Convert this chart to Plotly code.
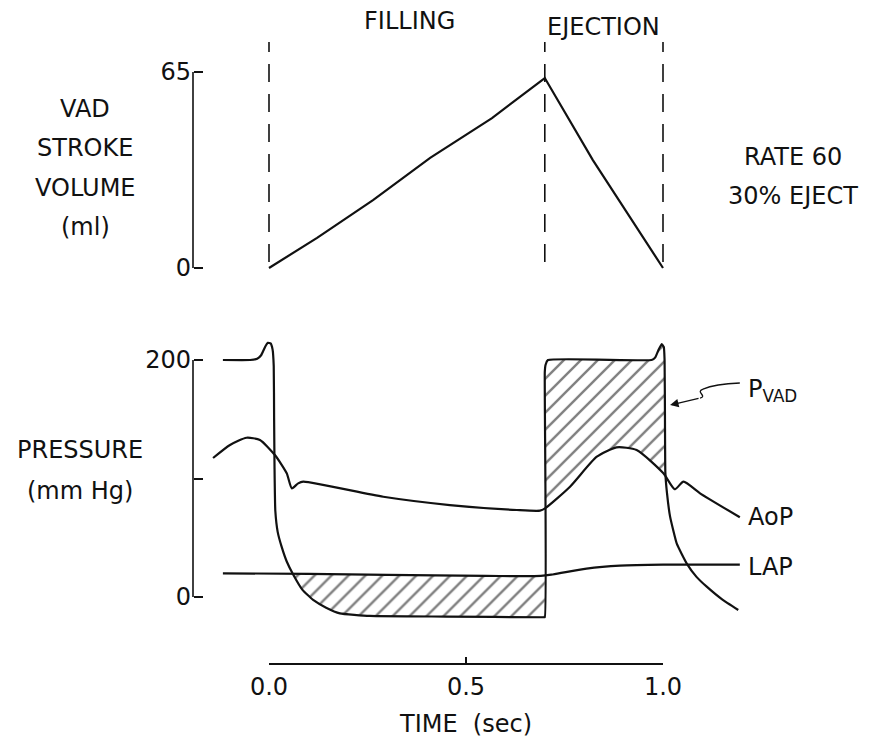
import numpy as np
import plotly.graph_objects as go

# ---- VAD stroke volume over one pump cycle (ml) ----
sv_time = [0.0, 0.122, 0.264, 0.409, 0.566, 0.700, 0.822, 1.0]
sv_volume = [0.0, 10.0, 22.5, 36.5, 49.7, 63.0, 35.8, 0.0]

# phase boundaries: start of filling, start of ejection, end of cycle
phase_bounds = [0.0, 0.7, 1.0]

# time scale ticks
time_ticks = [0.0, 0.5, 1.0]
time_tick_labels = ["0.0", "0.5", "1.0"]

# ---- pressures (mm Hg) ----
pvad_time = [-0.117, -0.048, -0.030, -0.020, -0.010, -0.003, 0.004, 0.009, 0.012,
             0.013, 0.014, 0.016, 0.022, 0.032, 0.045, 0.062, 0.085, 0.112, 0.145,
             0.180, 0.256, 0.450, 0.696, 0.700, 0.700, 0.702, 0.708, 0.971, 0.980,
             0.988, 0.9967, 1.002, 1.004, 1.005, 1.006, 1.010, 1.018, 1.035, 1.060,
             1.085, 1.111, 1.150, 1.191]
pvad_value = [200, 200, 201, 204, 211, 214.5, 214, 209, 195,
              150, 110, 73, 55, 42.5, 30, 18.6, 6, -2.5, -9,
              -13.8, -16, -16.5, -17.1, -17, 190, 196, 200, 200, 202,
              208, 213.5, 211, 200, 150, 105, 88, 67.8, 45, 28.4,
              17, 8.7, -2, -11]

aop_time = [-0.142, -0.099, -0.057, -0.023, 0.015, 0.045, 0.058, 0.074, 0.087,
            0.290, 0.459, 0.629, 0.688, 0.7005, 0.764, 0.832, 0.882, 0.933,
            1.001, 1.030, 1.052, 1.094, 1.195]
aop_value = [117.3, 128.3, 134.4, 132.5, 119.8, 104.4, 91.7, 95.9, 97.3,
             84.6, 77.6, 73.4, 72.9, 74.8, 93.1, 118.4, 126.3, 124.1,
             104.4, 90.9, 97.3, 87.5, 67.3]

lap_time = [-0.117, 0.10, 0.30, 0.55, 0.69, 0.72, 0.806, 0.891, 1.0, 1.195]
lap_value = [20.0, 19.5, 18.7, 17.8, 17.8, 19.0, 24.0, 26.5, 27.3, 27.3]

# ---- geometry of the page (pixels) ----
W, H = 872, 738
T0_PX, T1_PX = 269, 663            # x pixel of t = 0 and t = 1
AX_PX = 193                         # x pixel of the vertical scale bars
px_per_t = T1_PX - T0_PX

def fy(py):
    return 1 - py / H

INK = "#111111"
FONT = "DejaVu Sans"
FS = 24
HATCH = dict(shape="/", fgcolor="#000000", bgcolor="white", size=12, solidity=0.2)

fig = go.Figure()

pt = np.array(pvad_time)
pv = np.array(pvad_value)
at = np.array(aop_time)
av = np.array(aop_value)

# hatched area during filling: between LAP (above) and P_VAD (below)
m_fill = (pt >= 0.062) & (pt <= 0.7) & (pv <= 19)
f_t = pt[m_fill]
f_low = pv[m_fill]
f_up = np.interp(f_t, lap_time, lap_value)
fig.add_trace(go.Scatter(
    x=np.concatenate([f_t, f_t[::-1]]),
    y=np.concatenate([f_low, f_up[::-1]]),
    xaxis="x", yaxis="y2", mode="lines", fill="toself",
    line=dict(width=0, color="rgba(0,0,0,0)"),
    fillcolor="rgba(0,0,0,0)", fillpattern=HATCH,
    hoverinfo="skip", showlegend=False))

# hatched area during ejection: between P_VAD (above) and AoP (below)
m_ej = (pt >= 0.7) & (pt <= 1.006) & (pv >= 100)
e_t = pt[m_ej]
e_up = pv[m_ej]
m_ao = (at > 0.7) & (at < 1.006)
start_v = np.interp(0.7, at, av)
fig.add_trace(go.Scatter(
    x=np.concatenate([[0.7], e_t, at[m_ao][::-1]]),
    y=np.concatenate([[start_v], e_up, av[m_ao][::-1]]),
    xaxis="x", yaxis="y2", mode="lines", fill="toself",
    line=dict(width=0, color="rgba(0,0,0,0)"),
    fillcolor="rgba(0,0,0,0)", fillpattern=HATCH,
    hoverinfo="skip", showlegend=False))

# pressure traces
fig.add_trace(go.Scatter(x=lap_time, y=lap_value, xaxis="x", yaxis="y2", mode="lines",
                         line=dict(color=INK, width=2.2, shape="spline", smoothing=0.8),
                         showlegend=False, hoverinfo="skip"))
fig.add_trace(go.Scatter(x=aop_time, y=aop_value, xaxis="x", yaxis="y2", mode="lines",
                         line=dict(color=INK, width=2.2, shape="spline", smoothing=0.6),
                         showlegend=False, hoverinfo="skip"))
fig.add_trace(go.Scatter(x=pvad_time, y=pvad_value, xaxis="x", yaxis="y2", mode="lines",
                         line=dict(color=INK, width=2.2, shape="spline", smoothing=0.4),
                         showlegend=False, hoverinfo="skip"))

# stroke volume
fig.add_trace(go.Scatter(x=sv_time, y=sv_volume, xaxis="x", yaxis="y", mode="lines",
                         line=dict(color=INK, width=2.2),
                         showlegend=False, hoverinfo="skip"))

# carrier for the time scale bar (draws nothing itself)
fig.add_trace(go.Scatter(x=[time_ticks[0], time_ticks[-1]], y=[0.5, 0.5],
                         xaxis="x2", yaxis="y3", mode="lines",
                         line=dict(width=0, color="rgba(0,0,0,0)"),
                         showlegend=False, hoverinfo="skip"))

# ---- axes ----
t_lo = -T0_PX / px_per_t
t_hi = (W - T0_PX) / px_per_t

# top panel: 65 ml at y=72 px, 0 ml at y=268 px
sv_scale = (268 - 72) / 65.0
sv_dom = (40, 290)
sv_range = [-(sv_dom[1] - 268) / sv_scale, 65 + (72 - sv_dom[0]) / sv_scale]

# bottom panel: 200 mm Hg at y=360 px, 0 at y=597 px
p_scale = (597 - 360) / 200.0
p_dom = (330, 640)
p_range = [-(p_dom[1] - 597) / p_scale, 200 + (360 - p_dom[0]) / p_scale]

tick_font = dict(family=FONT, size=FS, color=INK)

fig.update_layout(
    width=W, height=H,
    margin=dict(l=0, r=0, t=0, b=0, autoexpand=False),
    paper_bgcolor="white", plot_bgcolor="rgba(0,0,0,0)",
    showlegend=False,
    xaxis=dict(domain=[0, 1], range=[t_lo, t_hi], visible=False, anchor="y",
               automargin=False),
    yaxis=dict(domain=[fy(sv_dom[1]), fy(sv_dom[0])], range=sv_range,
               anchor="free", position=AX_PX / W, showline=False, showgrid=False,
               zeroline=False, ticks="inside", ticklen=9, tickwidth=1.6, tickcolor=INK,
               tickvals=[0, 65], ticktext=["0", "65"], tickfont=tick_font,
               ticklabelstandoff=2, automargin=False),
    yaxis2=dict(domain=[fy(p_dom[1]), fy(p_dom[0])], range=p_range,
                anchor="free", position=AX_PX / W, showline=False, showgrid=False,
                zeroline=False, ticks="inside", ticklen=9, tickwidth=1.6, tickcolor=INK,
                tickvals=[0, 200], ticktext=["0", "200"], tickfont=tick_font,
                minor=dict(tickvals=[100], ticks="inside", ticklen=9, tickwidth=1.6,
                           tickcolor=INK, showgrid=False),
                ticklabelstandoff=2, automargin=False),
    # time scale bar under the traces
    xaxis2=dict(domain=[T0_PX / W, T1_PX / W], range=[time_ticks[0], time_ticks[-1]],
                anchor="y3", side="bottom", automargin=False,
                showline=True, linewidth=1.6, linecolor=INK, showgrid=False, zeroline=False,
                ticks="inside", ticklen=6, tickwidth=1.6, tickcolor=INK,
                tickvals=time_ticks, ticktext=time_tick_labels, tickfont=tick_font,
                ticklabelstandoff=1,
                title=dict(text="TIME  (sec)", font=tick_font, standoff=17)),
    yaxis3=dict(domain=[fy(663), fy(650)], range=[0, 1], visible=False, anchor="x2",
                automargin=False),
)

# scale bars for the two vertical axes
fig.add_shape(type="line", xref="paper", yref="y", x0=AX_PX / W, x1=AX_PX / W, y0=0, y1=65,
              line=dict(color=INK, width=1.6))
fig.add_shape(type="line", xref="paper", yref="y2", x0=AX_PX / W, x1=AX_PX / W, y0=0, y1=200,
              line=dict(color=INK, width=1.6))

# dashed phase markers
for tb in phase_bounds:
    fig.add_shape(type="line", xref="x", yref="paper", x0=tb, x1=tb,
                  y0=fy(262), y1=fy(42),
                  line=dict(color=INK, width=1.6, dash="18px,12px"))

# callout squiggle for the P_VAD label
fig.add_shape(type="path", xref="x", yref="y2",
              path="M 1.195,180.6 Q 1.132,179.7 1.1015,175.5 C 1.081,173 1.114,169.6 1.094,167.9",
              line=dict(color=INK, width=1.3))
fig.add_annotation(x=1.018, y=162, xref="x", yref="y2", ax=1.094, ay=167.9,
                   axref="x", ayref="y2", text="", showarrow=True,
                   arrowhead=2, arrowsize=1.3, arrowwidth=1.3, arrowcolor=INK)

def label(text, px, py, anchor="center", size=FS):
    fig.add_annotation(x=px / W, y=fy(py), xref="paper", yref="paper", text=text,
                       showarrow=False, xanchor=anchor, yanchor="middle",
                       font=dict(family=FONT, size=size, color=INK))

label("FILLING", 409, 21)
label("EJECTION", 603, 27)
label("VAD", 85, 109)
label("STROKE", 85, 148)
label("VOLUME", 85, 188)
label("(ml)", 85, 227)
label("RATE 60", 793, 157)
label("30% EJECT", 793, 196)
label("PRESSURE", 80, 450)
label("(mm Hg)", 80, 491)
label("AoP", 746, 517, anchor="left")
label("LAP", 746, 567, anchor="left")
label("P<sub>VAD</sub>", 746, 390, anchor="left")

fig.write_html("out.html")
